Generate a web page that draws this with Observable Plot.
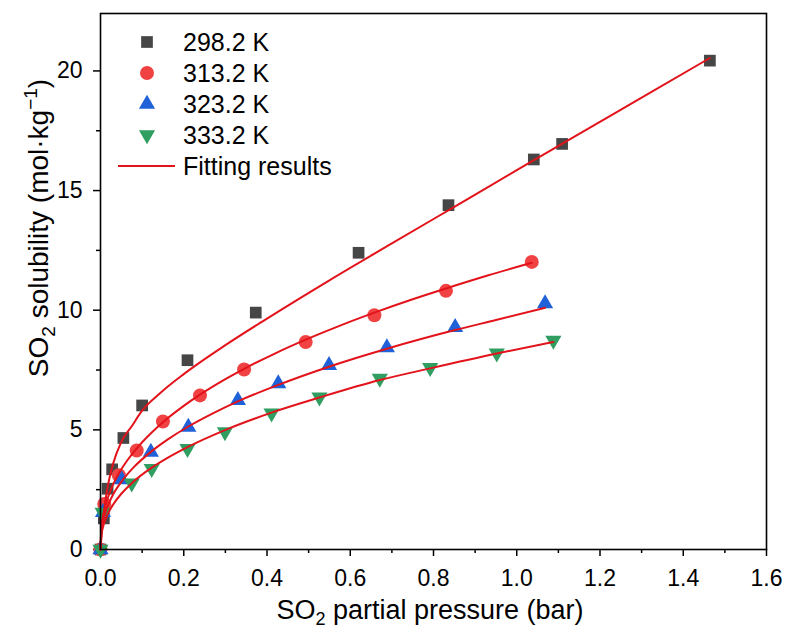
<!DOCTYPE html>
<html>
<head>
<meta charset="utf-8">
<script src="https://cdn.jsdelivr.net/npm/d3@7"></script>
<script src="https://cdn.jsdelivr.net/npm/@observablehq/plot@0.6"></script>
<style>
  html, body { margin: 0; padding: 0; background: #ffffff; }
  #chart { width: 785px; height: 632px; }
</style>
</head>
<body>
<div id="chart"></div>
<script>
// ---------- Data ----------
const seriesNames = ["298.2 K", "313.2 K", "323.2 K", "333.2 K"];
const fitLabel = "Fitting results";

// Experimental points: SO2 partial pressure (bar) and solubility (mol/kg)
const p298 = [0, 0.008, 0.017, 0.028, 0.055, 0.100, 0.209, 0.373, 0.620, 0.836, 1.041, 1.109, 1.464];
const s298 = [0, 1.30, 2.54, 3.35, 4.66, 6.02, 7.91, 9.90, 12.40, 14.39, 16.30, 16.95, 20.43];

const p313 = [0, 0.009, 0.044, 0.087, 0.150, 0.239, 0.345, 0.493, 0.658, 0.830, 1.036];
const s313 = [0, 1.90, 3.10, 4.14, 5.35, 6.44, 7.52, 8.67, 9.79, 10.81, 12.02];

const p323 = [0, 0.006, 0.051, 0.121, 0.211, 0.330, 0.427, 0.549, 0.688, 0.852, 1.068];
const s323 = [0, 1.55, 2.92, 4.07, 5.12, 6.23, 6.93, 7.70, 8.44, 9.28, 10.28];

const p333 = [0, 0.005, 0.075, 0.123, 0.209, 0.299, 0.411, 0.526, 0.671, 0.792, 0.952, 1.088];
const s333 = [0, 1.55, 2.77, 3.38, 4.21, 4.91, 5.70, 6.37, 7.15, 7.60, 8.21, 8.74];

// Fitting curves
const fitP298 = [0, 0.002, 0.006, 0.012, 0.02, 0.03, 0.05, 0.075, 0.1, 0.143, 0.2, 0.3, 0.4, 0.55, 0.7, 0.85, 1.0, 1.15, 1.3, 1.464];
const fitS298 = [0, 0.46, 1.22, 2.07, 2.87, 3.57, 4.50, 5.15, 5.80, 6.53, 7.33, 8.54, 9.65, 11.25, 12.79, 14.32, 15.85, 17.37, 18.88, 20.54];

const fitP313 = [0, 0.002, 0.006, 0.012, 0.02, 0.03, 0.044, 0.065, 0.087, 0.12, 0.15, 0.2, 0.239, 0.3, 0.345, 0.42, 0.493, 0.58, 0.658, 0.75, 0.83, 0.93, 1.036];
const fitS313 = [0, 0.87, 1.38, 1.84, 2.28, 2.71, 3.18, 3.74, 4.23, 4.84, 5.32, 6.00, 6.47, 7.12, 7.55, 8.20, 8.77, 9.39, 9.90, 10.46, 10.91, 11.45, 11.98];

const fitP323 = [0, 0.002, 0.006, 0.012, 0.02, 0.03, 0.051, 0.08, 0.121, 0.16, 0.211, 0.27, 0.33, 0.427, 0.549, 0.688, 0.852, 0.95, 1.068];
const fitS323 = [0, 0.74, 1.17, 1.56, 1.93, 2.29, 2.85, 3.44, 4.08, 4.58, 5.14, 5.69, 6.19, 6.88, 7.64, 8.39, 9.17, 9.59, 10.10];

const fitP333 = [0, 0.002, 0.006, 0.012, 0.02, 0.03, 0.05, 0.075, 0.123, 0.16, 0.209, 0.299, 0.411, 0.526, 0.671, 0.792, 0.952, 1.088];
const fitS333 = [0, 0.59, 0.94, 1.26, 1.57, 1.87, 2.33, 2.77, 3.42, 3.82, 4.28, 4.99, 5.72, 6.35, 7.08, 7.57, 8.19, 8.67];

// Axis ticks
const xTicks = [0, 0.2, 0.4, 0.6, 0.8, 1.0, 1.2, 1.4, 1.6];
const xMinorTicks = [0.1, 0.3, 0.5, 0.7, 0.9, 1.1, 1.3, 1.5];
const yTicks = [0, 5, 10, 15, 20];
const yMinorTicks = [2.5, 7.5, 12.5, 17.5];

// ---------- Styles ----------
const FONT = "'Liberation Sans', Arial, Helvetica, sans-serif";
const colors = ["#464646", "#f04242", "#1f61d8", "#2f9e60"];
const fitColor = "#e3131b";
const triangleDown = {
  draw(context, size) {
    const s3 = Math.sqrt(3);
    const y = -Math.sqrt(size / (s3 * 3));
    context.moveTo(0, -y * 2);
    context.lineTo(-s3 * y, y);
    context.lineTo(s3 * y, y);
    context.closePath();
  }
};
const symbols = ["square", "circle", "triangle", triangleDown];
const radii = [6.6, 7, 6.0, 6.0];

// ---------- Tables ----------
const pointSets = [[p298, s298], [p313, s313], [p323, s323], [p333, s333]];
const fitSets = [[fitP298, fitS298], [fitP313, fitS313], [fitP323, fitS323], [fitP333, fitS333]];
const pointTables = pointSets.map(([P, S], k) => P.map((p, i) => ({series: seriesNames[k], p, s: S[i]})));
const fitRows = fitSets.flatMap(([P, S], k) => P.map((p, i) => ({series: seriesNames[k], p, s: S[i]})));

const W = 785, H = 632;
const mL = 100, mR = 19, mT = 13, mB = 83;

const chart = Plot.plot({
  width: W, height: H,
  marginLeft: mL, marginRight: mR, marginTop: mT, marginBottom: mB,
  style: {fontFamily: FONT, background: "#ffffff", color: "#000000", overflow: "visible"},
  x: {domain: [0, 1.6]},
  y: {domain: [0, 22.4]},
  marks: [
    Plot.axisX({ticks: xMinorTicks, tickSize: 4, tickFormat: () => "", strokeWidth: 1.5, label: null}),
    Plot.axisX({ticks: xTicks, tickSize: 7, tickPadding: 13, tickFormat: d3.format(".1f"), fontSize: 23, strokeWidth: 1.5, label: null}),
    Plot.axisY({ticks: yMinorTicks, tickSize: 4, tickFormat: () => "", strokeWidth: 1.5, label: null}),
    Plot.axisY({ticks: yTicks, tickSize: 7, tickPadding: 11, tickFormat: d3.format("d"), fontSize: 23, strokeWidth: 1.5, label: null}),
    ...pointTables.map((tbl, k) => Plot.dot(tbl, {x: "p", y: "s", symbol: symbols[k], r: radii[k], fill: colors[k], stroke: "none"})),
    Plot.line(fitRows, {x: "p", y: "s", z: "series", stroke: fitColor, strokeWidth: 2, curve: "monotone-x"}),
    Plot.frame({stroke: "#000000", strokeWidth: 1.6})
  ]
});

document.getElementById("chart").appendChild(chart);

// ---------- Titles & legend ----------
const svg = d3.select(chart);

// X title
const xt = svg.append("text")
  .attr("x", 430).attr("y", 619)
  .attr("text-anchor", "middle")
  .attr("font-family", FONT).attr("font-size", 27).attr("fill", "#000");
xt.append("tspan").text("SO");
xt.append("tspan").attr("font-size", 18).attr("dy", 6).text("2");
xt.append("tspan").attr("dy", -6).text(" partial pressure (bar)");

// Y title
const yt = svg.append("text")
  .attr("transform", "translate(48,228) rotate(-90)")
  .attr("text-anchor", "middle")
  .attr("font-family", FONT).attr("font-size", 28).attr("fill", "#000");
yt.append("tspan").text("SO");
yt.append("tspan").attr("font-size", 19).attr("dy", 7).text("2");
yt.append("tspan").attr("dy", -7).text(" solubility (mol\u00b7kg");
yt.append("tspan").attr("font-size", 19).attr("dy", -11).text("\u22121");
yt.append("tspan").attr("dy", 11).text(")");

// Legend
const lg = svg.append("g").attr("font-family", FONT).attr("font-size", 25).attr("fill", "#000").attr("text-anchor", "start");
const rowY = [42, 73, 104, 135, 166];
const symX = 147, textX = 183;
seriesNames.forEach((name, k) => {
  const sym = typeof symbols[k] === "string"
    ? {square: d3.symbolSquare, circle: d3.symbolCircle, triangle: d3.symbolTriangle}[symbols[k]]
    : symbols[k];
  lg.append("path")
    .attr("transform", `translate(${symX},${rowY[k]})`)
    .attr("d", d3.symbol(sym, radii[k] * radii[k] * Math.PI)())
    .attr("fill", colors[k]);
  lg.append("text").attr("x", textX).attr("y", rowY[k]).attr("dy", "0.36em").attr("text-anchor", "start").text(name);
});
lg.append("line")
  .attr("x1", 118).attr("x2", 175)
  .attr("y1", rowY[4]).attr("y2", rowY[4])
  .attr("stroke", fitColor).attr("stroke-width", 2);
lg.append("text").attr("x", textX).attr("y", rowY[4]).attr("dy", "0.36em").attr("text-anchor", "start").text(fitLabel);
</script>
</body>
</html>
